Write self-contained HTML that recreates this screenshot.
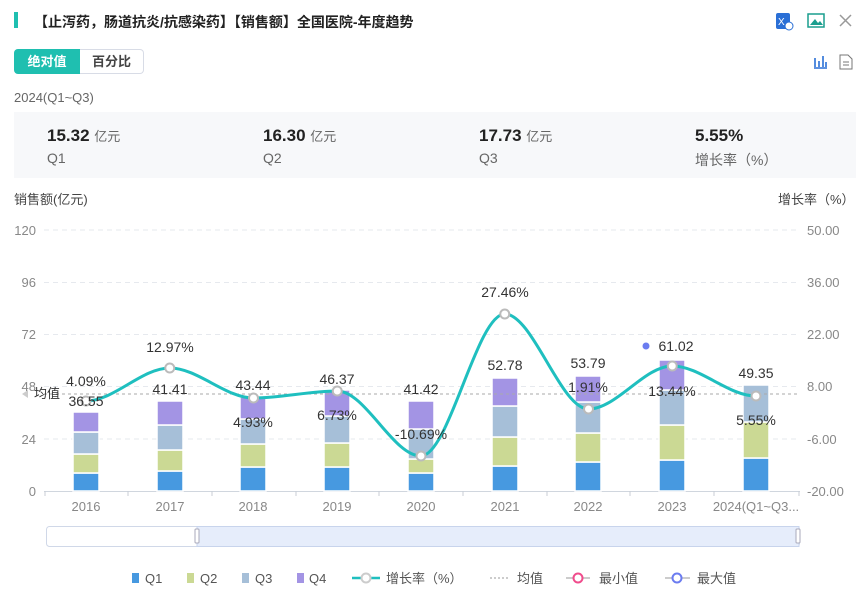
<!DOCTYPE html>
<html><head><meta charset="utf-8"><style>
body{margin:0;width:860px;height:603px;background:#fff;font-family:"Liberation Sans","Noto Sans CJK SC",sans-serif;position:relative;overflow:hidden;color:#333}
.a{position:absolute;white-space:nowrap}
</style></head><body>
<div class="a" style="left:14px;top:12px;width:4px;height:16px;background:#1fbfb0"></div>
<div class="a" style="left:34px;top:12px;font-size:14px;font-weight:bold;color:#222">【止泻药，肠道抗炎/抗感染药】【销售额】全国医院-年度趋势</div>
<svg class="a" style="left:774px;top:10px" width="80" height="22">
<rect x="2" y="3" width="14" height="16" rx="2" fill="#2a6fd6"/><text x="4" y="15" font-size="10" fill="#fff" font-family="Liberation Sans">X</text><circle cx="15" cy="16" r="4" fill="#fff" stroke="#2a6fd6"/>
<rect x="34" y="4" width="16" height="13" fill="none" stroke="#1a9e8e" stroke-width="1.5"/><path d="M36 15 L41 9 L44 13 L46 11 L49 15Z" fill="#1a9e8e"/>
<path d="M66 5 L77 16 M77 5 L66 16" stroke="#999" stroke-width="1.5"/>
</svg>
<div class="a" style="left:14px;top:49px;width:66px;height:25px;background:#1fbfb0;border-radius:4px 0 0 4px;color:#fff;font-size:13px;font-weight:bold;line-height:25px;text-align:center">绝对值</div>
<div class="a" style="left:80px;top:49px;width:63px;height:23px;border:1px solid #d8dce6;border-left:none;border-radius:0 4px 4px 0;font-size:13px;font-weight:bold;line-height:23px;text-align:center;color:#444">百分比</div>
<svg class="a" style="left:812px;top:53px" width="44" height="18"><path d="M2 15 H15 M3 5 V14 M7 8 V14 M11 3 V14 M14 9 V14" stroke="#2a6fd6" stroke-width="1.6" fill="none"/><path d="M28 2 H36 L40 6 V16 H28Z M31 9 H37 M31 12 H37" stroke="#777" fill="none"/></svg>
<div class="a" style="left:14px;top:90px;font-size:13px;color:#666">2024(Q1~Q3)</div>
<div class="a" style="left:14px;top:112px;width:842px;height:66px;background:#f7f8fa"></div>
<div class="a" style="left:47px;top:126px;font-size:17px;font-weight:bold;color:#222">15.32 <span style="font-size:13px;font-weight:normal;color:#666">亿元</span></div>
<div class="a" style="left:47px;top:150px;font-size:14px;color:#666">Q1</div>
<div class="a" style="left:263px;top:126px;font-size:17px;font-weight:bold;color:#222">16.30 <span style="font-size:13px;font-weight:normal;color:#666">亿元</span></div>
<div class="a" style="left:263px;top:150px;font-size:14px;color:#666">Q2</div>
<div class="a" style="left:479px;top:126px;font-size:17px;font-weight:bold;color:#222">17.73 <span style="font-size:13px;font-weight:normal;color:#666">亿元</span></div>
<div class="a" style="left:479px;top:150px;font-size:14px;color:#666">Q3</div>
<div class="a" style="left:695px;top:126px;font-size:17px;font-weight:bold;color:#222">5.55%</div>
<div class="a" style="left:695px;top:150px;font-size:14px;color:#666">增长率（%）</div>
<div class="a" style="left:14px;top:189px;font-size:13px;color:#444">销售额(亿元)</div>
<div class="a" style="left:778px;top:189px;font-size:13px;color:#444">增长率（%）</div>
<svg class="a" style="left:0;top:0" width="860" height="603" font-family="Liberation Sans,Noto Sans CJK SC,sans-serif">
<g stroke="#e6e9ee" stroke-dasharray="5,4">
<line x1="44" x2="800" y1="230" y2="230"/><line x1="44" x2="800" y1="282.5" y2="282.5"/><line x1="44" x2="800" y1="334.5" y2="334.5"/><line x1="44" x2="800" y1="386.5" y2="386.5"/><line x1="44" x2="800" y1="439" y2="439"/>
</g>
<line x1="44" x2="800" y1="491.5" y2="491.5" stroke="#d0d6de"/>
<g stroke="#c8ced6"><line x1="45" x2="45" y1="491" y2="496"/><line x1="128" x2="128" y1="491" y2="496"/><line x1="212" x2="212" y1="491" y2="496"/><line x1="296" x2="296" y1="491" y2="496"/><line x1="379" x2="379" y1="491" y2="496"/><line x1="463" x2="463" y1="491" y2="496"/><line x1="547" x2="547" y1="491" y2="496"/><line x1="630" x2="630" y1="491" y2="496"/><line x1="714" x2="714" y1="491" y2="496"/><line x1="799" x2="799" y1="491" y2="496"/></g>
<g font-size="13" fill="#888" text-anchor="end">
<text x="36" y="235">120</text><text x="36" y="287">96</text><text x="36" y="339">72</text><text x="36" y="391">48</text><text x="36" y="444">24</text><text x="36" y="496">0</text></g>
<g font-size="13" fill="#888">
<text x="807" y="235">50.00</text><text x="807" y="287">36.00</text><text x="807" y="339">22.00</text><text x="807" y="391">8.00</text><text x="807" y="444">-6.00</text><text x="807" y="496">-20.00</text></g>
<g font-size="13" fill="#888" text-anchor="middle">
<text x="86" y="511">2016</text><text x="170" y="511">2017</text><text x="253" y="511">2018</text><text x="337" y="511">2019</text><text x="421" y="511">2020</text><text x="505" y="511">2021</text><text x="588" y="511">2022</text><text x="672" y="511">2023</text><text x="756" y="511">2024(Q1~Q3...</text></g>
<g stroke="#fff" stroke-width="1.5">
<rect x="73" y="473" width="26" height="18" fill="#4799e0"/><rect x="73" y="454" width="26" height="19" fill="#cbd994"/><rect x="73" y="432" width="26" height="22" fill="#a6bfd8"/><rect x="73" y="412" width="26" height="20" fill="#a394e4"/>
<rect x="157" y="471" width="26" height="20" fill="#4799e0"/><rect x="157" y="450" width="26" height="21" fill="#cbd994"/><rect x="157" y="425" width="26" height="25" fill="#a6bfd8"/><rect x="157" y="401" width="26" height="24" fill="#a394e4"/>
<rect x="240" y="467" width="26" height="24" fill="#4799e0"/><rect x="240" y="444" width="26" height="23" fill="#cbd994"/><rect x="240" y="419" width="26" height="25" fill="#a6bfd8"/><rect x="240" y="397" width="26" height="22" fill="#a394e4"/>
<rect x="324" y="467" width="26" height="24" fill="#4799e0"/><rect x="324" y="443" width="26" height="24" fill="#cbd994"/><rect x="324" y="416" width="26" height="27" fill="#a6bfd8"/><rect x="324" y="390" width="26" height="26" fill="#a394e4"/>
<rect x="408" y="473" width="26" height="18" fill="#4799e0"/><rect x="408" y="459" width="26" height="14" fill="#cbd994"/><rect x="408" y="429" width="26" height="30" fill="#a6bfd8"/><rect x="408" y="401" width="26" height="28" fill="#a394e4"/>
<rect x="492" y="466" width="26" height="25" fill="#4799e0"/><rect x="492" y="437" width="26" height="29" fill="#cbd994"/><rect x="492" y="406" width="26" height="31" fill="#a6bfd8"/><rect x="492" y="378" width="26" height="28" fill="#a394e4"/>
<rect x="575" y="462" width="26" height="29" fill="#4799e0"/><rect x="575" y="433" width="26" height="29" fill="#cbd994"/><rect x="575" y="402" width="26" height="31" fill="#a6bfd8"/><rect x="575" y="376" width="26" height="26" fill="#a394e4"/>
<rect x="659" y="460" width="26" height="31" fill="#4799e0"/><rect x="659" y="425" width="26" height="35" fill="#cbd994"/><rect x="659" y="390" width="26" height="35" fill="#a6bfd8"/><rect x="659" y="360" width="26" height="30" fill="#a394e4"/>
<rect x="743" y="458" width="26" height="33" fill="#4799e0"/><rect x="743" y="422" width="26" height="36" fill="#cbd994"/><rect x="743" y="385" width="26" height="37" fill="#a6bfd8"/>
</g>
<line x1="44" x2="800" y1="394" y2="394" stroke="#aaa" stroke-dasharray="3,3"/>
<path d="M22 394 L28 390 L28 398Z" fill="#ccc"/>
<text x="34" y="398" font-size="13" fill="#333">均值</text>
<path d="M86 401 C113.9 401 141.8 368 169.75 368 C197.7 368 225.6 398 253.5 398 C281.4 398 309.3 391 337.25 391 C365.2 391 393.1 456 421 456 C448.9 456 476.8 314 504.75 314 C532.7 314 560.6 409 588.5 409 C616.4 409 644.3 366 672.25 366 C700.2 366 728.1 396 756 396" fill="none" stroke="#1fbfbf" stroke-width="3"/>
<g fill="#fff" stroke="#bbb" stroke-width="2">
<circle cx="86" cy="401" r="4.5"/><circle cx="169.75" cy="368" r="4.5"/><circle cx="253.5" cy="398" r="4.5"/><circle cx="337.25" cy="391" r="4.5"/><circle cx="421" cy="456" r="4.5"/><circle cx="504.75" cy="314" r="4.5"/><circle cx="588.5" cy="409" r="4.5"/><circle cx="672.25" cy="366" r="4.5"/><circle cx="756" cy="396" r="4.5"/></g>
<g font-size="14" fill="#333" text-anchor="middle">
<text x="86" y="386">4.09%</text><text x="86" y="406">36.55</text>
<text x="170" y="352">12.97%</text><text x="170" y="394">41.41</text>
<text x="253" y="390">43.44</text><text x="253" y="427">4.93%</text>
<text x="337" y="384">46.37</text><text x="337" y="420">6.73%</text>
<text x="421" y="394">41.42</text><text x="421" y="439">-10.69%</text>
<text x="505" y="297">27.46%</text><text x="505" y="370">52.78</text>
<text x="588" y="368">53.79</text><text x="588" y="392">1.91%</text>
<text x="676" y="351">61.02</text><text x="672" y="396">13.44%</text>
<text x="756" y="378">49.35</text><text x="756" y="425">5.55%</text></g>
<circle cx="646" cy="346" r="3.5" fill="#6b7cf0"/>
<rect x="46.5" y="526.5" width="753" height="20" rx="3" fill="#fff" stroke="#d0d8e8"/>
<rect x="197" y="526.5" width="602" height="20" fill="#e6edfb" stroke="#c8d4ec"/>
<rect x="195" y="529" width="4" height="14" rx="1" fill="#fff" stroke="#aab"/>
<rect x="796" y="529" width="4" height="14" rx="1" fill="#fff" stroke="#aab"/>
<g font-size="13" fill="#555">
<rect x="132" y="573" width="7" height="10" fill="#4799e0"/><text x="145" y="583">Q1</text>
<rect x="187" y="573" width="7" height="10" fill="#cbd994"/><text x="200" y="583">Q2</text>
<rect x="242" y="573" width="7" height="10" fill="#a6bfd8"/><text x="255" y="583">Q3</text>
<rect x="297" y="573" width="7" height="10" fill="#a394e4"/><text x="309" y="583">Q4</text>
<line x1="352" x2="380" y1="578" y2="578" stroke="#1fbfbf" stroke-width="2.5"/><circle cx="366" cy="578" r="4.5" fill="#fff" stroke="#ccc" stroke-width="2"/><text x="386" y="583">增长率（%）</text>
<line x1="490" x2="510" y1="578" y2="578" stroke="#999" stroke-dasharray="2,2"/><text x="517" y="583">均值</text>
<line x1="566" x2="590" y1="578" y2="578" stroke="#ccc" stroke-width="2"/><circle cx="578" cy="578" r="4.5" fill="#fff" stroke="#f04c8c" stroke-width="2"/><text x="599" y="583">最小值</text>
<line x1="665" x2="690" y1="578" y2="578" stroke="#ccc" stroke-width="2"/><circle cx="677" cy="578" r="4.5" fill="#fff" stroke="#6b7cf0" stroke-width="2"/><text x="697" y="583">最大值</text>
</g>
</svg>
</body></html>
